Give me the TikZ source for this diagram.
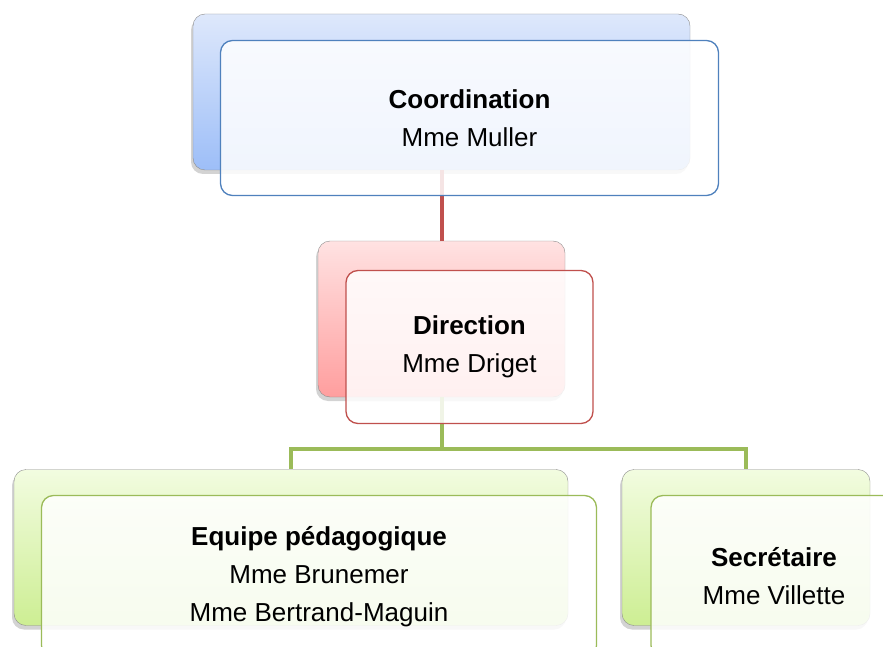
\documentclass[tikz,border=0pt]{standalone}
\usepackage{fontspec}
\setmainfont{Liberation Sans}
\usetikzlibrary{calc,shadows}

\definecolor{blueline}{HTML}{4F81BD}
\definecolor{redline}{HTML}{C0504D}
\definecolor{greenline}{HTML}{9BBB59}
\definecolor{bluetop}{HTML}{DEE8FB}
\definecolor{bluebottom}{HTML}{9DBEF8}
\definecolor{redtop}{HTML}{FFE2E2}
\definecolor{redbottom}{HTML}{FF9E9E}
\definecolor{greentop}{HTML}{F2FCE0}
\definecolor{greenbottom}{HTML}{CDEE93}

\begin{document}
\begin{tikzpicture}[x=1pt,y=-1pt,
        back/.style={draw=gray!90, rounded corners=12pt, minimum height=156pt,
            drop shadow={shadow xshift=-2pt, shadow yshift=-4pt, opacity=.35}},
        front/.style={draw, line width=1.3pt, rounded corners=12pt, minimum height=155pt,
            fill=white, fill opacity=.85, text opacity=1, align=center,
            font=\fontsize{26}{38}\selectfont},
        link/.style={line width=4pt}]
        \useasboundingbox (0,0) rectangle (883,647);

        % Back boxes
        \node (CoordBack) at (441.5,92) [back, minimum width=497pt,
            top color=bluetop, bottom color=bluebottom] {};
        \node (DirBack) at (441.5,319) [back, minimum width=247pt,
            top color=redtop, bottom color=redbottom] {};
        \node (EquipeBack) at (291,547.5) [back, minimum width=554pt,
            top color=greentop, bottom color=greenbottom] {};
        \node (SecBack) at (746,547.5) [back, minimum width=248pt,
            top color=greentop, bottom color=greenbottom] {};

        % Connectors
        \coordinate (fork) at ($(DirBack.south)+(0,52)$);
        \draw [link, redline] (CoordBack.south) -- (DirBack.north);
        \draw [link, greenline] (DirBack.south) -- (fork) -| (EquipeBack.north);
        \draw [link, greenline] (fork) -| (SecBack.north);

        % Front boxes
        \node (Coord) at ($(CoordBack)+(28,26)$) [front, draw=blueline, minimum width=498pt]
            {\textbf{Coordination}\\Mme Muller};
        \node (Dir) at ($(DirBack)+(28,28)$) [front, draw=redline, minimum width=247pt, minimum height=153pt]
            {\textbf{Direction}\\Mme Driget};
        \node (Equipe) at ($(EquipeBack)+(28,29)$) [front, draw=greenline, minimum width=555pt, minimum height=162pt]
            {\textbf{Equipe pédagogique}\\Mme Brunemer\\Mme Bertrand-Maguin};
        \node (Sec) at ($(SecBack)+(28,29)$) [front, draw=greenline, minimum width=246pt, minimum height=162pt]
            {\textbf{Secrétaire}\\Mme Villette};

    \end{tikzpicture}
\end{document}
